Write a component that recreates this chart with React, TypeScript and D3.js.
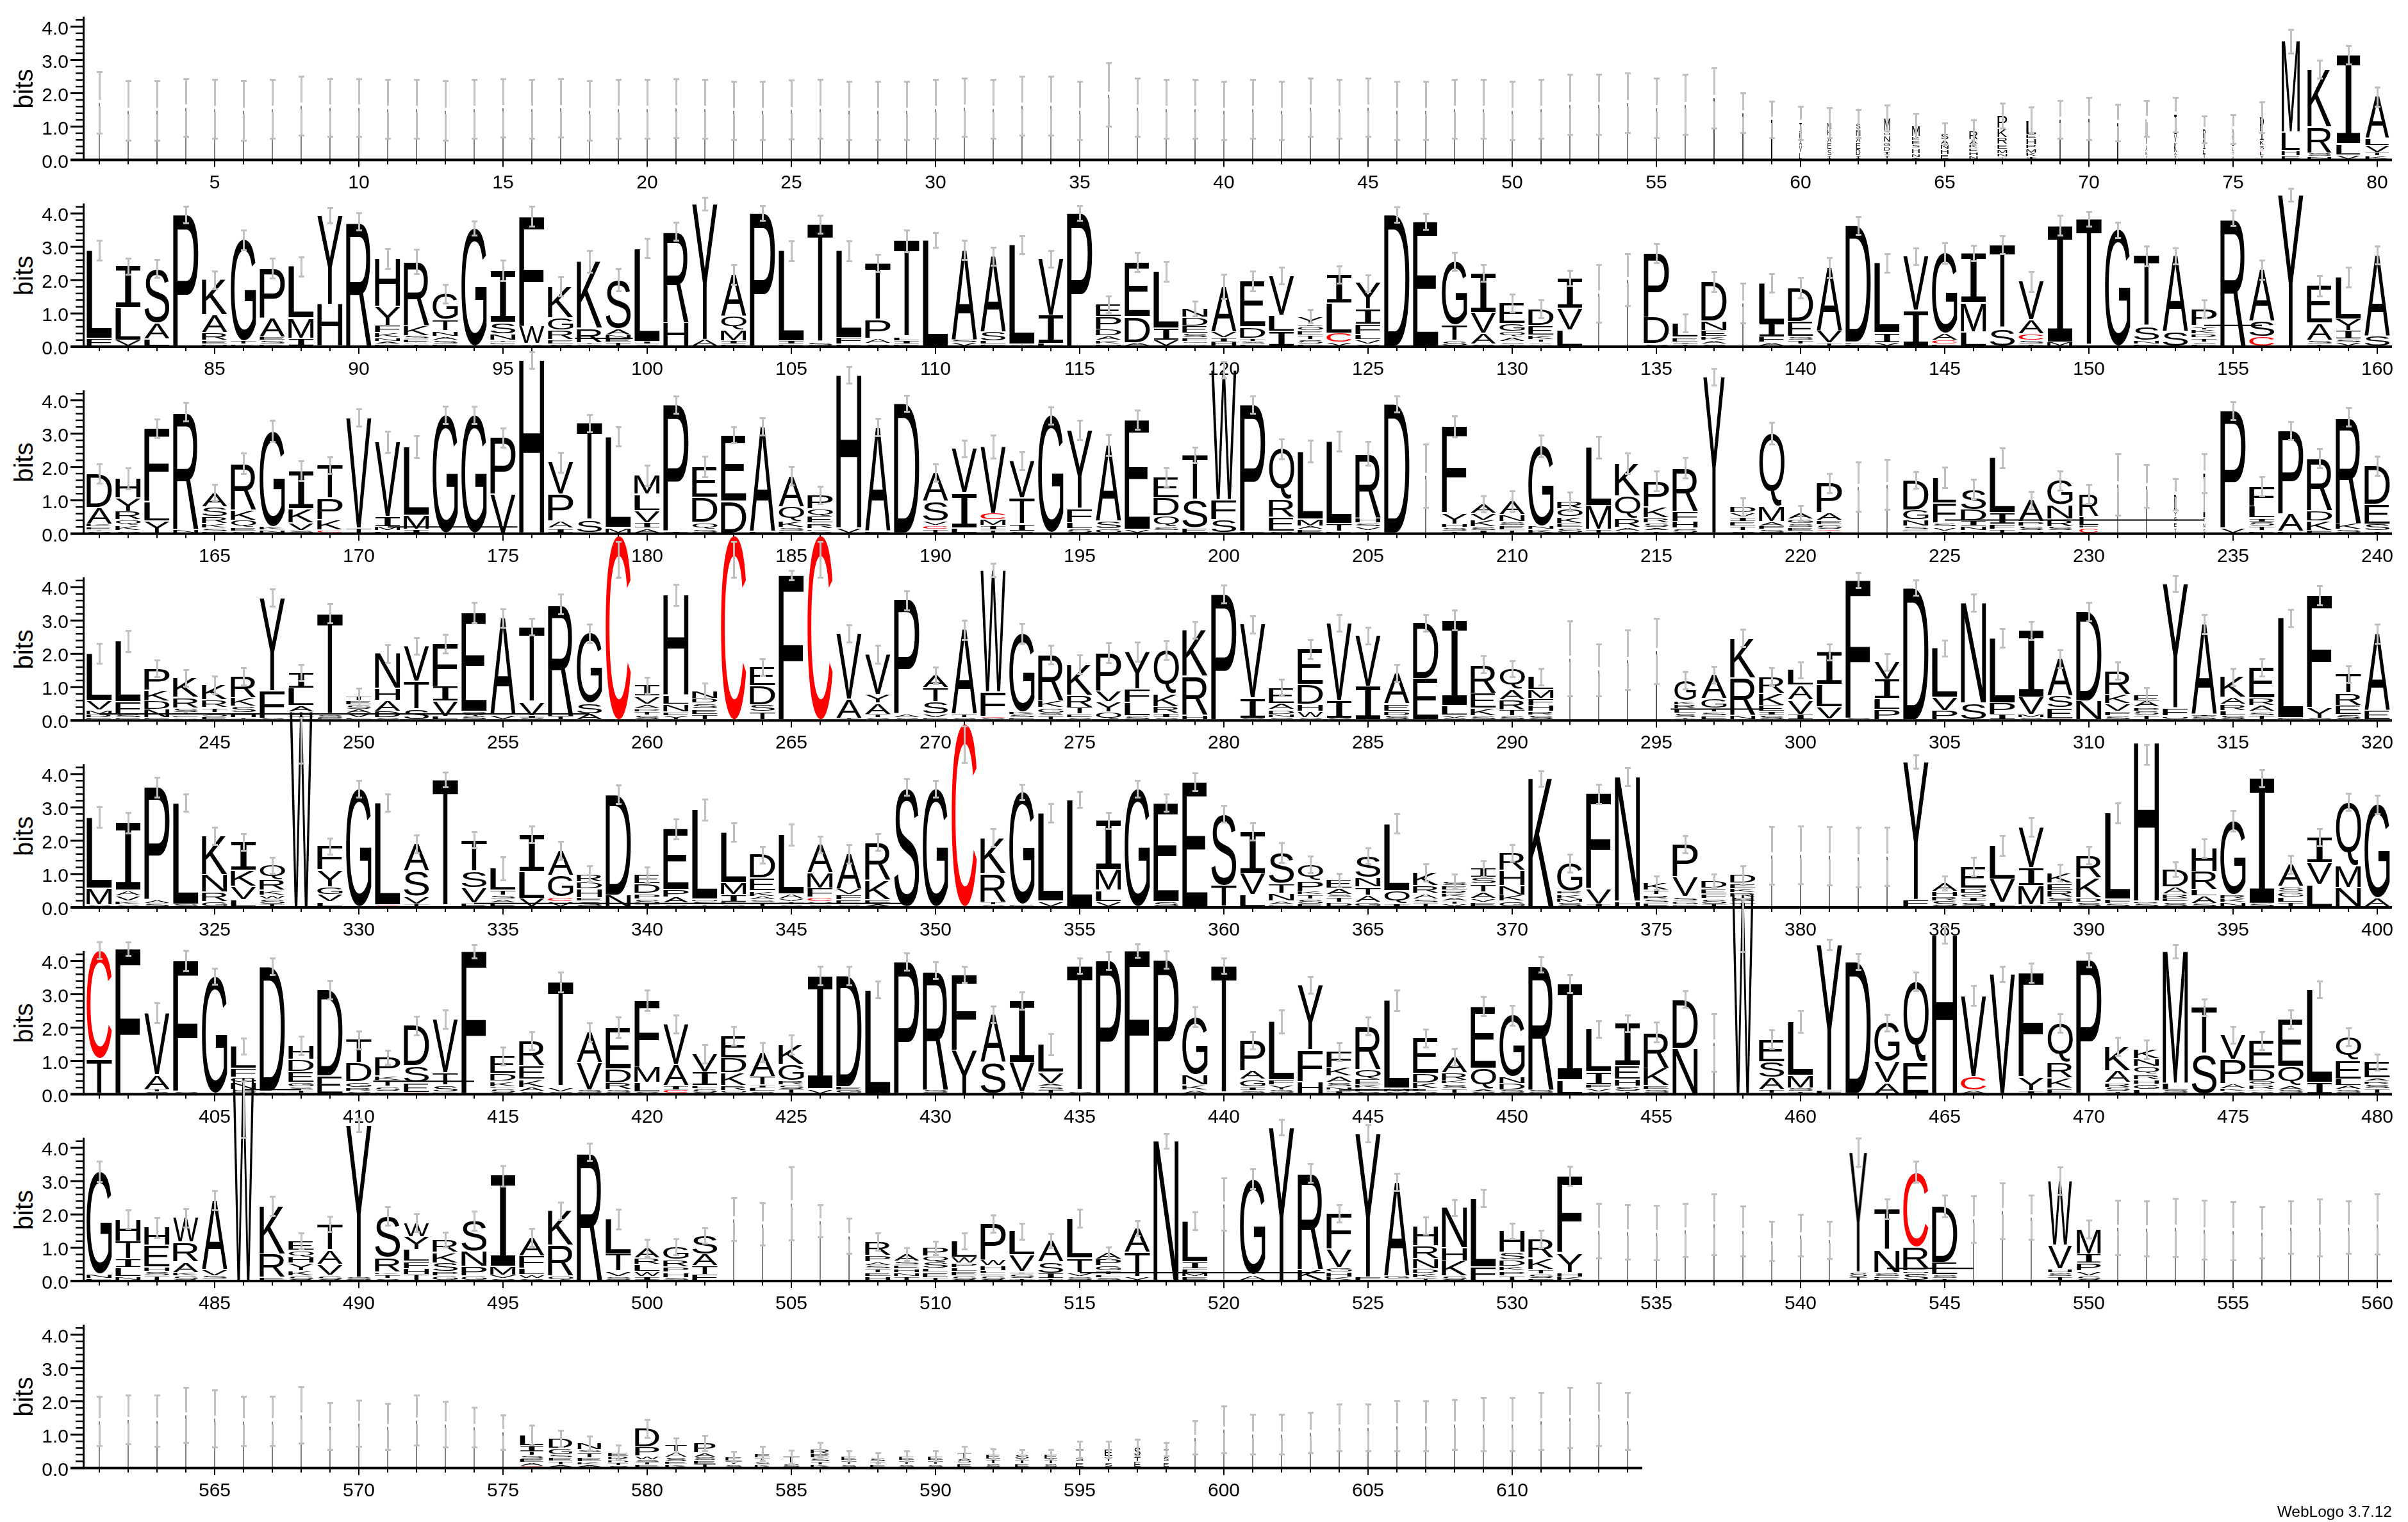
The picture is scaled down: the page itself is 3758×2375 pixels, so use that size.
import React, { useMemo } from "react";
import * as d3 from "d3";

// Each entry: letters top-to-bottom with bits | stack total | error half-size | column width share | error centre
const row1Stacks = [
"|1.71|.92|.025","|1.47|.9|.025","|1.47|.9|.025","|1.56|.87|.025","|1.52|.88|.025","|1.47|.9|.025","|1.52|.88|.025","|1.62|.88|.025","|1.56|.87|.025","|1.56|.87|.025",
"|1.52|.88|.025","|1.52|.88|.025","|1.47|.9|.025","|1.52|.88|.025","|1.55|.87|.025","|1.52|.88|.025","|1.55|.87|.025","|1.47|.9|.025","|1.52|.88|.025","|1.52|.88|.025",
"|1.54|.88|.025","|1.52|.88|.025","|1.47|.88|.025","|1.47|.88|.025","|1.5|.88|.025","|1.52|.88|.025","|1.47|.88|.025","|1.47|.88|.025","|1.47|.88|.025","|1.52|.88|.025",
"|1.57|.88|.025","|1.52|.88|.025","|1.62|.88|.025","|1.62|.88|.025","|1.47|.88|.025","|1.95|.95|.025","|1.57|.88|.025","|1.52|.88|.025","|1.52|.88|.025","|1.47|.88|.025",
"|1.52|.88|.025","|1.47|.88|.025","|1.57|.88|.025","|1.52|.88|.025","|1.57|.88|.025","|1.47|.88|.025","|1.47|.88|.025","|1.52|.88|.025","|1.52|.88|.025","|1.47|.88|.025",
"|1.52|.88|.025","|1.65|.9|.025","|1.65|.9|.025","|1.7|.9|.025","|1.55|.9|.025","|1.65|.9|.03","|1.85|.9|.05","|1.4|.6|.05","|1.2|.55|.07","I.3K.2A.2V.2L.2|1.1|.5|.1",
"M.2K.2A.2E.2S.2I.1|1.1|.45|.15","S.2N.2A.2E.2D.2I.1|1.08|.42|.17","M.35O.1N.15G.12D.1I.1T.1|1.25|.39|.23","M.3K.1E.12S.1H.15N.1I.05|1|.38|.3","S.18A.14N.15H.15E.15|.77|.33|.3","R.25A.15K.1E.12H.12N.1|.84|.35|.33","P.38K.29R.2E.15M.13N.1T.07|1.32|.37|.38","L.42E.12H.17P.12M.12K.1I.08|1.18|.39|.38","I.6V.2K.1A.1T.1R.1|1.2|.57|.05","I.6A.2V.15K.15T.13|1.23|.63|.05",
"L.55V.2K.1A.15R.1|1.1|.55|.06","L.5V.3A.2K.13T.1|1.23|.54|.07","I.6V.25K.3A.1T.1|1.35|.52|.1","P.3F.1I.2L.15T.15|.9|.4|.1","A.3I.25L.15T.12V.1|.92|.43|.07","P.45I.25K.15S.15C.03L.14T.1|1.27|.46|.15","M2.66L.53H.16E.1|3.55|.36|.72","K1.7R.77S.1N.08|2.71|.27|.95","I2.58L.33V.13|3.14|.28|.95","A1.2L.2V.2T.1K.1|1.89|.29|.93",
];
const row2Stacks = [
"L2.6F.22|2.88|.3","I1.2L.93V.17|2.4|.24","S1.55A.45L.2|2.33|.27","P3.95|3.95|.25","K1A.5R.22E.1N.06|2|.27","G3T.1K.05|3.2|.3","P1.45A.56E.1S.1K.06|2.35|.3","L1.47M.57I.22|2.4|.29","Y2.65H1.25|3.93|.23","R3.7|3.75|.26",
"H1.27Y.5F.2K.13N.1A.07E.05|2.63|.3","R1.9K.3S.1E.1A.05T.05|2.55|.37","G.7T.3N.15A.1S.1E.06|1.58|.28","G3.5|3.55|.22","I1.4S.32N.17T.06E.05A.05|2.28|.3","F3.25W.52V.07|3.9|.3","K.85G.32R.25E.12S.06|1.8|.28","K1.9R.4T.05G.05|2.55|.33","S1.33A.16N.1E.1T.1|2|.34","L2.75I.08V.06|2.95|.29",
"R2.7H.68|3.45|.27","Y4.05A.2|4.28|.2","A1.2Q.38M.32I.1E.05|2.16|.3","P4|4|.22","L2.65I.1E.05|2.87|.3","T3.55S.1|3.67|.27","L2.6F.2E.05|2.87|.3","T1.63P.53A.15S.07|2.5|.26","T2.8L.1I.1E.05|3.17|.33","L3.2|3.2|.22",
"A2.65S.1V.1|2.9|.29","A2.26S.28L.1E.05|2.7|.27","L2.93A.05|3.05|.26","V1.6I.8L.07|2.63|.25","P4|4|.22","E.35P.34D.18A.12K.1N.05|1.27|.25","E1.52D.73A.1|2.53|.28","L1.58I.34V.17|2.25|.3","N.2D.2E.17S.1F.08Q.06A.05|1.13|.22","A1.1V.15I.1H.1|1.8|.36",
"E1.15D.28T.08S.07L.05|1.97|.3","V1.1L.45I.4|2.13|.25","Y.18I.05O.1E.1T.1S.1L.05|.9|.2","I.77L.8C.25V.1|2.15|.26","Y.63I.37F.24L.13V.1S.05|1.9|.25","D3.95|3.95|.23","E3.7|3.75|.24","G1.83T.45S.16|2.55|.26","I1.1V.58A.3S.05|2.2|.25","E.46G.17Q.13A.1S.05T.05|1.3|.26",
"D.37E.2K.1T.06V.04A.04|1.12|.27","I.82V.58L.43|2.05|.23","|1.59|.87|.03","|2|.78|.04","P1.87D.77S.07|2.8|.28","L.35E.11I.05T.05|.7|.27","D1.03N.25E.16K.1A.1S.05|1.95|.3","|1.3|.6|.04","L1.12I.37F.16A.1|1.9|.28","D.87E.38S.09T.1A.05|1.76|.3",
"A1.62V.32T.08|2.37|.3","D3.4L.07E.05|3.63|.27","L2I.28V.1|2.5|.28","V1.57I1.03|2.7|.25","G2.3A.2C.12L.05|2.8|.3","I1.4M.83L.4|2.8|.24","T2.5S.53|3.05|.26","V1.06A.38C.18S.1T.05|1.95|.3","I3.37M.12|3.63|.3","T3.83|3.83|.22",
"G3.45|3.5|.23","T2S.4N.1E.05|2.72|.3","A2.2S.42|2.72|.24","P.42Y.1K.1R.1T.1S.05L.05|1.12|.27","R3.85|3.85|.23","A1.4S.42C.25|2.3|.28","Y4.5|4.55|.2","E.96A.43S.1T.05|1.82|.3","L1.22Y.33I.24S.1V.1|2.08|.3","A2.3S.3|2.74|.27",
];
const row3Stacks = [
"D.87A.43K.07E.07T.05S.03|1.8|.29","H.45Y.3R.19Q.13K.12S.05|1.65|.32","F2.1L.55Y.35|3.15|.28","R3.52N.1|3.65|.28","A.35S.24R.17K.1S.09E.03|1.23|.24","R1.27K.28Q.19E.1S.05|2.1|.31","G2.77K.1N.08|3.07|.31","I.93K.34V.19S.06|1.88|.29","T.88P.55K.27C.07|2.05|.25","V3.3T.15|3.47|.26",
"V2.13I.29M.12L.06|2.75|.32","L1.94M.41I.1|2.6|.32","G3.5|3.55|.26","G3.5|3.55|.26","P1.63V1.12|2.87|.28","H5.2|5.2|.25","V.88P.73A.2I.13|2.13|.3","T2.9S.37|3.3|.26","L2.6M.16|2.9|.29","M.48L.41V.31I.14A.12|1.73|.31",
"P3.72I.06|3.86|.26","E.79D.65Q.17S.1|2|.31","E1.94D.93|2.95|.24","A3.05L.05|3.2|.26","A.8Q.38K.15S.1E.05|1.72|.28","P.3Q.16E.14R.12K.05S.04|1.15|.26","H4.5V.15|4.75|.25","A3.03E.05|3.18|.26","D3.85|3.9|.24","A.8S.55V.12C.1T.1|1.82|.26",
"V1.27I1L.15|2.54|.25","V1.87C.19M.16I.13T.08|2.6|.34","V1.02T.72I.19S.05|2.18|.27","G3.48|3.53|.26","Y2.2F.4L.17S.12|3.1|.29","A2.17S.22G.12|2.65|.31","E3.15V.1|3.4|.29","E.52D.45Q.27S.1A.05|1.68|.28","T1.25S.76E.15|2.35|.24","W3.9F.6S.4|4.9|.25",
"P3.72E.05|3.86|.26","Q1.36R.48E.38S.05|2.53|.3","L1.94M.2A.1E.1|2.46|.33","L2.39T.23E.05|2.77|.3","R1.7H.14S.1V.1T.06|2.4|.36","D3.78|3.88|.24","|1.73|.95|.04","F2.45Y.32H.1S.1T.05|3.2|.32","A.19V.14K.14S.07I.05|.87|.24","A.31N.15S.09E.1T.06|.97|.31",
"G2.1N.09K.09|2.62|.33","R.14O.15K.12E.08S.1|.95|.28","L1.65M.67T.1|2.58|.32","K.89Q.62R.24A.1S.05|2.1|.3","P.57K.24R.12S.1A.07T.05|1.57|.29","R1.1F.26H.17S.12|1.96|.31","Y4.7|4.7|.25|.85","D.14V.1I.1E.1T.1S.05|.8|.27","Q2.05M.43A.12F.1S.1|3|.33","A.15G.12S.1E.1T.05|.6|.24",
"P.66A.17E.1S.1C.03T.05|1.5|.29","|1.39|.74|.03","|1.46|.75|.03","D.8G.27N.16S.1E.05C.03|1.6|.25","L.65F.5S.1V.1T.05|1.68|.31|.92","S.46D.26I.11N.1E.05|1.33|.29","L1.55I.32F.15T.1|2.27|.3","A.5P.1S.1N.05|1|.26","G.58N.34R.17S.1T.05|1.58|.29","R.45L.17F.05C.1|1.17|.29|.75",
"|1.47|.92|.02","|1.42|.64|.04","D.3Y.1S.1E.1T.1|1.16|.47|.1","I.9T.1N.1S.1|1.8|.58|.07","P3.45V.15|3.68|.27","F.46L.26I.09S.1T.1E.05|1.4|.29","P2.42A.5L.05|3.08|.27","R1.4D.27K.24F.07|2.26|.29","R3.12K.17S.1|3.5|.28","D.98E.5S.17T.05|2.03|.29",
];
const row4Stacks = [
"L1.3V.26M.12R.1E.05|2|.3","L1.72F.36S.1E.05|2.37|.31","P.52K.27D.2N.2E.05|1.55|.25","K.45R.24S.1T.07E.05A.05|1.27|.25","K.31R.16T.1S.1E.05|1.06|.26","R.5K.19S.14H.12T.05|1.32|.26","Y2.73F.8S.05|3.67|.26","I.43L.46A.17S.1T.1|1.43|.24","T2.88S.1E.05|3.2|.29","T.1E.1S.1A.1V.1L.05|.7|.26",
"N.9H.3A.28D.17S.05|2|.27","V1.03T.8S.3|2.23|.25","F1.17I.41V.41L.1|2.3|.28","E2.85Q.14S.1|3.23|.31","A2.83V.14|3.07|.28","T2.15V.39I.07S.05|2.8|.25","R3.3T.1|3.48|.3","G2S.31A.17|2.61|.28","C5.54|5.54|.54||4.82","I.23V.17A.1P.06T.07S.1|1.05|.24",
"H2.86L.25N.23F.1Y.12|3.76|.32","N.14D.09S.1E.1T.1|.88|.23","C5.54|5.54|.54||4.82","E.47D.46S.17T.2|1.6|.25","F4.3|4.35|.15","C5.54|5.54|.54||4.82","V1.92A.55T.05|2.61|.26","V1.1Y.23A.3T.1S.05|1.97|.27","P3.4A.1S.07|3.6|.29","A.31T.36S.3V.09E.05|1.34|.25",
"A2.37T.1S.06|2.71|.29","W3.43F.69C.05S.05|4.5|.2","G2.14K.07S.1E.05|2.6|.3","R1.18K.17G.14S.07T.1|1.97|.28","K.79R.31T.17E.1S.05|1.68|.28","P.96V.27Y.26Q.2|2.03|.3","Y.93F.34L.33S.1|2.06|.29","Q1.04K.31R.16I.1S.05|2.1|.28","K1.34R1.13H.14|2.71|.25","P3.75|3.78|.27",
"V2.16I.58S.05|2.88|.26","E.43A.17D.12N.1S.05|.98|.25","E.93D.53H.19W.17S.05|2.13|.28","V2.27I.52S.05|2.92|.25","V1.41I.93|2.54|.25","A.72E.17D.1S.1|1.41|.26","D1.55E1.15|2.92|.25","I2.42L.27V.09S.05|3|.3","R.74E.38K.2S.1|1.67|.26","Q.52A.24R.25T.14S.1|1.55|.24",
"L.27M.18F.14H.12R.07S.1|1.3|.25","|1.85|1.13|.03","|1.5|.78|.03","|1.81|.89|.04","|2.08|.98|.05","G.47K.09R.1L.1S.1T.05|1.19|.26|.85","A.62G.24T.1S.1E.1|1.37|.25","K1.09R1.03N.12|2.46|.26","R.38K.27E.14I.09S.1|1.3|.27","L.41A.38V.38I.14|1.51|.24",
"I.9L.62V.33C.03|2.04|.24","F4.1S.05|4.2|.22","V.48I.52L.29P.28|1.75|.25","D3.93|3.97|.23","L1.41V.38P.27|2.16|.24","N2.97S.5|3.53|.26","L1.87P.34I.15|2.46|.28","I1.85V.48M.09S.05|2.68|.27","A1.03S.34E.3C.03|1.85|.27","D2.61N.55|3.26|.28",
"R.58K.23V.19F.1S.1|1.48|.26","E.14A.14P.09S.1T.1|.75|.22","Y3.7F.24H.07S.05|4.1|.24","A2.61I.06S.1|2.88|.29","K.48A.17R.14L.12S.1|1.3|.26","E.74R.19A.14S.1T.1|1.58|.26","L2.93E.06|3.07|.26","F3.23Y.31S.05|3.74|.29","T.42R.27E.2S.12|1.38|.25","A2.16E.27|2.6|.29",
];
const row5Stacks = [
"L2.03M.48S.05|2.7|.3","I1.78A.14V.14K.1S.05|2.52|.31","P3.35A.1S.1|3.6|.3","L3S.08|3.13|.26","K1.03N.46R.25G.14|2.13|.26","I.75K.43V.36L.18|1.95|.25","Q.28R.21K.1W.07S.1T.05|1.25|.24","W5.7|5.87|.68|.9|5","F.61Y.43G.19V.19L.12|1.83|.24","G3.5|3.55|.25",
"L2.99C.06|3.13|.26","A.78S.73V.23T.07|1.9|.27","T3.75|3.82|.22","T.84S.44V.41E.1|2.01|.24","L.59T.14S.1A.1E.1|1.16|.35","I1.02L.73V.23|2.18|.25","A.62G.53C.12V.12|1.7|.26","R.14D.13H.16E.06S.1|.99|.24","D2.85N.33|3.38|.28","E.18D.18P.11S.1T.05|.96|.24",
"E1.64P.2A.16D.05S.05|2.35|.3","L2.67M.07S.1T.05|2.92|.31","L1.37M.32I.21E.07S.05|2.25|.28","D.6E.32K.14A.09S.07T.1|1.57|.25","L1.6A.14V.07T.08S.05|2.17|.32","A.71M.37F.23C.11V.07S.05|1.87|.25","A.88V.14F.12E.12S.05|1.6|.28","R1.07K.55E.11A.09|1.95|.25","S3.55|3.6|.25","G3.5|3.55|.25",
"C5.5|5.5|.55||4.88","K.91R.73T.07S.05|2.08|.27","G3.34E.07|3.45|.23","L2.54V.16|2.82|.28","L3.15|3.22|.24","I1.39M.58L.32V.14|2.6|.24","G3.5|3.55|.25","E2.95S.15|3.13|.26","E3.72|3.75|.27","S2.06T.6|2.8|.25",
"I1.12V.57L.32|2.26|.26","S.78T.25N.19A.1E.05|1.63|.3","Q.32P.21K.07T.09S.1E.05|1.27|.25","E.16A.12S.05T.1D.08|.8|.2","S.57N.24T.21A.18G.12|1.53|.24","L1.87Q.36I.09|2.5|.29","K.26R.16A.11S.07T.08|1.03|.26","S.12E.12R.1K.1A.1T.08V.07|.77|.22","I.21S.14T.18A.14V.09E.1|1.16|.24","R.39H.34N.21K.14G.12|1.63|.25",
"K3.83|3.86|.23","G.6R.07K.1M.07S.1|1.31|.27","F2.72V.43I.07|3.4|.29","N3.63H.16|3.91|.27","K.2T.12R.1S.1E.1|.73|.2","P.82V.5S.1G.1E.05|1.88|.26","D.14E.1F.09S.1T.05|.78|.2","D.18E.11K.09R.09S.1T.1|.96|.28","|1.55|.87|.04","|1.57|.87|.04",
"|1.54|.88|.04","|1.5|.9|.04","|1.52|.88|.04","Y4.08F.21|4.36|.2","A.14H.09R.07S.1|.72|.21","E.46D.11O.09I.09S.1|1.21|.27","L.89V.6L.12|1.85|.3","V1.12I.5M.53S.05|2.4|.28","K.2E.14R.13S.08T.1|1.02|.25","R.53K.46D.1S.1|1.56|.26",
"L2.55F.12S.1|2.82|.3","H4.7R.07S.1|4.93|.3|| 4.58","D.36A.14R.09E.07S.1|1.14|.22","H.55R.43L.14A.18S.08|1.76|.28","G2R.13K.09N.12|2.58|.31","I3.73S.1|3.87|.26","A.53S.14G.12L.13T.1|1.28|.27","I.7V.6L.6|2.1|.26","Q1.74M.6N.52|3.16|.26","G2.69A.25|3.08|.28",
];
const row6Stacks = [
"C3.2T1.02|4.3|.25","F4.36|4.36|.2","V1.71A.39T.07S.05|2.43|.3","F3.9S.07|4|.3","G3.5|3.52|.24","L.58F.23G.14N.18S.1|1.43|.24","D3.72L.07|3.82|.25","H.31D.26E.25G.1S.07T.07|1.45|.28","D2.49E.5|3.13|.28","T.57D.46G.14R.09S.05|1.62|.27",
"P.4K.09T.13S.1E.05|1.1|.21","D1.05S.43E.25C.03|2.05|.28","V1.46T.33S.18E.05|2.24|.28","F4.17|4.28|.2","E.39D.18K.12L.05S.1|1.14|.27","R.6E.33K.19A.1S.05|1.6|.27","T3.04V.14S.05|3.36|.3","A.8V.71S.1|1.85|.28","E1.08D.36R.18S.1|2|.3","F1.81M.43L.25S.05|2.81|.31",
"V1.1A.57I.13C.09|2.1|.27","V.41I.3L.07S.1|1.2|.28","E.57D.39K.32R.14O.07|1.74|.27","A.53T.18I.07L.07S.05|1.25|.28","K.48G.39R.11S.1T.1|1.48|.28","I3.26V.14|3.54|.28","D3.33E.1G.1|3.54|.28","L3.09|3.13|.25","P3.93|3.97|.26","R3.6S.1|3.71|.25",
"F2.23Y1.28|3.58|.24","A1.35S.89|2.38|.25","I1.78V.85T.05|2.8|.26","L.75V.3A.07S.1T.1|1.49|.31","T3.77S.07|3.84|.23","P3.94|4|.26","F4.25|4.3|.2","P3.95|4.02|.26","G1.6N.28K.14A.1|2.31|.3","T3.77|3.84|.23",
"P.75A.21G.18I.1S.07|1.6|.26","L1.64F.14Y.14S.1|2.17|.34","Y1.89F.92H.35|3.27|.25","F.36K.18A.14S.1N.07I.07|1.27|.27","R1.14Q.25E.16K.09P.09S.05|2.03|.27","L2.52M.1S.05|2.81|.31","E.85D.23K.14L.07S.05|1.67|.27","A.32R.16K.07S.1T.1|1.1|.26","E1.78Q.6A.07S.05|2.63|.29","G1.69N.18D.18S.1|2.36|.3",
"R3.66S.1|3.88|.23","I2.8L.4|3.3|.27","L1.17I.36F.1V.09S.05|1.95|.25","I1.06E.33H.18S.13T.05|2.12|.25","R.89K.43E.09S.1|1.85|.3","D1.35N1.25|2.84|.25","|1.54|.86|.04","W5.8|6|.8|.85|5.07","E.57S.39A.3T.1|1.64|.28","L1.42M.34S.1T.05|2.17|.33",
"Y4.34F.1|4.48|.15","D3.95|3.97|.24","G1.12V.6A.32|2.14|.25","Q2.29E.9|3.37|.28","H4.75|4.77|.25","V2.28C.38A.1|2.95|.3","V3.56|3.6|.23","F3Y.4I.09|3.63|.29","Q.98R.39K.25E.14|2.12|.28","P3.98|4.02|.21",
"K.57A.28R.11S.1T.05|1.42|.27","K.23N.19Q.18R.14H.11G.13L.1|1.33|.28","M3.93L.21S.1|4.28|.2","T1.32S1.1|2.6|.25","V.64P.62A.14K.07S.05|1.77|.25","E.68D.28Q.1R.1A.05S.05|1.6|.27","E1.24Q.5A.11S.1|2.24|.28","L2.7I.32|3.13|.25","Q.58E.46L.16A.1S.1|1.72|.27","E.36A.07R.07S.1T.1|.96|.24",
];
const row7Stacks = [
"G2.98N.14L.05|3.28|.3","H.55T.45I.22L.22N.1|1.84|.28","H.4E.48H.1S.1T.1|1.6|.3","W.56R.45A.24K.08S.1|1.89|.28","A1.89V.17S.1C.03|2.42|.29","W6|6.1|.85|.85|5.15","K1.26R.61E.08|2.24|.29","E.21Q.14H.14Y.16K.11S.1|1.19|.24","T.7A.38V.29S.13|1.71|.23","Y4.56S.1|4.67|.2",
"S1.06R.38K.06T.1S.05|1.94|.28","W.32Y.29L.26F.16H.13T.13|1.75|.27","R.32K.26S.22P.11G.11|1.23|.22","S.87N.42P.26G.13|1.8|.28","I2.56M.24V.1S.05|3.15|.31","A.48F.32L.16W.1S.05|1.3|.27","K.83R.74Q.11|2.1|.26","R3.82|3.86|.26","L.87T.45V.13S.1|1.85|.3","A.19R.12L.13W.1I.07|.98|.26",
"G.24R.13P.1H.1S.05|1.02|.24","S.42A.26T.19F.13|1.36|.23","|1.85|.65|.03","|1.7|.64|.03","|2.32|1.09|.03","|1.8|.48|.03","|1.34|.53|.04","R.38P.16A.1S.1T.1E.1H.1|1.17|.26","A.2S.1E.1H.1N.1T.1|.8|.2","P.15Q.11S.11L.07E.1T.05|.98|.2",
"L.37W.13P.1L.08E.1S.1|1.19|.24","P.81W.13H.11L.06E.05S.1|1.72|.26","L.55V.38I.05S.1T.05|1.49|.24","A.55S.3I.13T.05|1.21|.21","L1.03T.38V.1S.1|1.87|.27","A.13P.13G.1T.07L.06S.05|.84|.18","A.64T.63V.1|1.58|.22","N4.2|4.2|.22","L1.06I.19F.1M.1E.1|1.8|.26","|2.3|.78|.04",
"G2.72A.16|3.06|.3","Y4.5|4.6|.23","R2.68K.3|3.24|.28","F.87V.45G.11H.13K.08|2.03|.26","Y4.24F.1|4.42|.26","A2.66G.1C.03|2.96|.26","H.45R.29N.22D.1K.1Y.06|1.65|.26","N.94H.32K.35S.1|2.2|.24","L1.92F.38|2.48|.26","H.45S.16D.12K.1P.1T.1|1.49|.23",
"R.45K.26T.1S.1E.05|1.26|.26","F2.16Y.55H.12K.1|3.14|.29","|1.5|.82|.03","|1.47|.82|.03","|1.44|.82|.03","|1.52|.8|.03","|1.7|.91|.03","|1.5|.75|.03","|1.19|.59|.03","|1.37|.63|.03",
"|1.23|.56|.03","Y3.5S.15T.1|3.86|.42|.7","T1.1N.61S.1E.05K.05|2.15|.3","C2.06R.59K.08N.06S.2|3.27|.32","D1.45E.32S.1T.05|2.24|.33","|1.85|.7|.03","|2.1|.83|.03","|1.9|.66|.03","W1.67V.61H.1S.1T.1|3|.42|.95","M.52I.19P.16V.1S.1|1.55|.27|.95",
"|1.6|.82|.03","|1.57|.82|.03","|1.6|.87|.03","|1.53|.88|.03","|1.5|.88|.03","|1.45|.77|.03","|1.6|.79|.03","|1.6|.85|.03","|1.6|.79|.03","|1.7|.9|.03",
];
const row8Stacks = [
"|1.4|.74|.03","|1.44|.73|.03","|1.41|.77|.03","|1.58|.82|.03","|1.48|.86|.03","|1.39|.74|.03","|1.39|.74|.03","|1.58|.84|.03","|1.24|.7|.03","|1.33|.69|.03",
"|1.23|.69|.03","|1.42|.75|.03","|1.3|.69|.03","|1.22|.6|.03","|1.07|.52|.04","L.25I.13T.1S.08E.08A.08C.03|.98|.3|.93","D.2G.13S.07E.07T.07A.05|.87|.25|.93","N.13S.05T.1E.08K.05A.05|.73|.21|.93","E.12R.1D.08T.07S.05|.46|.21|.8","D.37P.18W.07S.05T.05E.05|1.18|.27|.95",
"T.13A.1S.08E.05K.05|.68|.21|.85","P.15A.07S.05E.05T.05|.74|.23|.85","E.08T.06S.05|.33|.16|.65","E.1T.08S.06K.05|.42|.21|.6","T.1S.06|.32|.2|.65","R.1E.08S.07T.06K.05|.55|.21|.75","E.1T.08S.07|.35|.15|.6","S.1T.08E.06|.3|.15|.6","E.1T.08S.07|.35|.15|.6","E.1T.08S.07|.35|.15|.6",
"T.12S.1E.08|.45|.18|.55","E.12T.1S.08|.42|.15|.55","S.12T.1E.08|.4|.15|.55","E.12T.1S.08|.4|.15|.5","T.15S.1E.1|.55|.25|.3","E.15T.1S.1|.55|.25|.3","S.15T.1E.1|.6|.25|.25","T.15S.1E.1|.55|.2|.2","|.9|.5|.03","|1.15|.7|.03",
"|1|.6|.03","|1|.6|.03","|1.05|.6|.03","|1.2|.7|.03","|1.2|.7|.03","|1.25|.75|.03","|1.25|.75|.03","|1.3|.75|.03","|1.3|.8|.03","|1.3|.8|.03",
"|1.4|.85|.03","|1.5|.9|.03","|1.6|.95|.03","|1.4|.85|.03",
];
const allRows = [row1Stacks, row2Stacks, row3Stacks, row4Stacks, row5Stacks, row6Stacks, row7Stacks, row8Stacks];
// Long hairline marks seen in the logo: [from position, to position, bits]
const hairlines: [number, number, number][] = [
  [97.5, 99.5, 0.25], [154, 156, 0.64], [171, 175.5, 0.2], [225, 234, 0.41], [241, 258, 0.2],
  [295.5, 298.7, 0.34], [334, 349, 0.12], [410.5, 414, 0.39], [406, 408, 0.14], [444, 447, 0.13], [515, 523.5, 0.25], [543, 546, 0.38],
];
const yTicks = d3.range(0, 4.21, 0.2);

const FONT = "'Liberation Sans', Arial, sans-serif";
const MONO = "'DejaVu Sans Mono', monospace";
const ROWS_PER = 80;
const FIRST_X = 155;
const POS_STEP = 45;
const BASE0 = 249.5;
const ROW_STEP = 291.6;
const BIT_PX = 52;
const FULL_W = 39.5;

type Ink = { l: number; w: number; a: number; h: number };
function inkMeasure() {
  const ctx = document.createElement("canvas").getContext("2d")!;
  const cache: Record<string, Ink> = {};
  return (ch: string): Ink => {
    if (cache[ch]) return cache[ch];
    ctx.font = `100px ${ch === "I" ? MONO : FONT}`;
    const m = ctx.measureText(ch);
    cache[ch] = { l: m.actualBoundingBoxLeft, w: m.actualBoundingBoxLeft + m.actualBoundingBoxRight, a: m.actualBoundingBoxAscent, h: m.actualBoundingBoxAscent + m.actualBoundingBoxDescent };
    return cache[ch];
  };
}

function parse(tok: string) {
  const [letters, total, half, width, centre] = tok.split("|");
  const t = +total;
  const parts = [...letters.matchAll(/([A-Z])([\d.]+)/g)].map((m) => ({ ch: m[1], v: +m[2] }));
  const sum = d3.sum(parts, (p) => p.v) || 1;
  return {
    total: t,
    half: +half,
    w: width && width.trim() ? +width : 1,
    centre: centre ? +centre : t,
    parts: parts.map((p) => ({ ch: p.ch, v: (p.v / sum) * t })),
  };
}

export default function App() {
  const ink = useMemo(inkMeasure, []);
  const rows = allRows.map((tokens, r) => {
    const base = BASE0 + r * ROW_STEP;
    const first = r * ROWS_PER + 1;
    const y = d3.scaleLinear().domain([0, 4]).range([base, base - 4 * BIT_PX]);
    const x = d3.scaleLinear().domain([first, first + 79]).range([FIRST_X, FIRST_X + 79 * POS_STEP]);
    const last = first + tokens.length - 1;
    const positions = d3.range(first, last + 1);
    return (
      <g key={r}>
        <g opacity={0.999}>
          {tokens.map((tok, i) => {
            const p = parse(tok);
            const cx = x(first + i);
            const w = p.w * FULL_W;
            if (w < 2.6 || !p.parts.length) {
              return <line key={i} x1={cx} x2={cx} y1={y(0)} y2={y(p.total)} stroke="#000" strokeWidth={Math.max(1, w * 0.7)} />;
            }
            let acc = 0;
            const items = [...p.parts].reverse().map((q, j) => {
              const bottom = y(acc) - 2;
              acc += q.v;
              const top = y(acc);
              const h = Math.max(0.6, bottom - top);
              const m = ink(q.ch);
              const sx = w / m.w;
              const sy = h / m.h;
              return (
                <text
                  key={j}
                  transform={`translate(${cx - w / 2 + m.l * sx},${top + m.a * sy}) scale(${sx},${sy})`}
                  fontFamily={q.ch === "I" ? MONO : FONT}
                  fontSize={100}
                  fill={q.ch === "C" ? "#ff0000" : "#000"}
                >
                  {q.ch}
                </text>
              );
            });
            return <g key={i}>{items}</g>;
          })}
        </g>
        {hairlines
          .filter((h) => h[0] >= first && h[0] <= last)
          .map((h, i) => (
            <line key={i} x1={x(h[0])} x2={x(h[1])} y1={y(h[2])} y2={y(h[2])} stroke="#000" strokeWidth={2} />
          ))}
        {tokens.map((tok, i) => {
          const p = parse(tok);
          const cx = x(first + i);
          const hi = y(p.centre + p.half);
          const lo = y(p.centre - p.half);
          const mid = y(p.centre);
          const narrow = p.w < 0.12;
          return (
            <g key={i} stroke="#c0c0c0" strokeWidth={3} shapeRendering="crispEdges">
              <line x1={cx - 4.5} x2={cx + 4.5} y1={hi} y2={hi} />
              <line x1={cx - 4.5} x2={cx + 4.5} y1={lo} y2={lo} />
              {narrow ? (
                <>
                  <line x1={cx} x2={cx} y1={hi} y2={mid - 5} />
                  <line x1={cx} x2={cx} y1={mid + 5} y2={lo} />
                </>
              ) : (
                <line x1={cx} x2={cx} y1={hi} y2={lo} />
              )}
            </g>
          );
        })}
        {/* axes */}
        <line x1={110} x2={x(last) + 23} y1={base} y2={base} stroke="#000" strokeWidth={4} />
        <line x1={130.5} x2={130.5} y1={base} y2={base - 4.3 * BIT_PX} stroke="#000" strokeWidth={3} />
        {yTicks.map((t) => {
          const major = Math.abs(t - Math.round(t)) < 1e-6;
          return <line key={t} x1={major ? 110 : 118} x2={131} y1={y(t)} y2={y(t)} stroke="#000" strokeWidth={major ? 3 : 2.5} />;
        })}
        {[0, 1, 2, 3, 4].map((t) => (
          <text key={t} x={107} y={y(t) + 12} textAnchor="end" fontFamily={FONT} fontSize={30} fill="#000">
            {t.toFixed(1)}
          </text>
        ))}
        <text transform={`translate(51,${base - 111}) rotate(-90)`} textAnchor="middle" fontFamily={FONT} fontSize={40} fill="#000">
          bits
        </text>
        {positions.map((pos) => {
          const major = pos % 5 === 0;
          return (
            <g key={pos}>
              <line x1={x(pos)} x2={x(pos)} y1={base} y2={base + (major ? 11 : 7)} stroke="#000" strokeWidth={2} />
              {major && (
                <text x={x(pos)} y={base + 44} textAnchor="middle" fontFamily={FONT} fontSize={30} fill="#000">
                  {pos}
                </text>
              )}
            </g>
          );
        })}
      </g>
    );
  });
  return (
    <svg width={3758} height={2375} viewBox="0 0 3758 2375" style={{ position: "absolute", left: 0, top: 0, background: "#fff" }}>
      {rows}
      <text x={3733} y={2367} textAnchor="end" fontFamily={FONT} fontSize={24.5} fill="#000">
        WebLogo 3.7.12
      </text>
    </svg>
  );
}
